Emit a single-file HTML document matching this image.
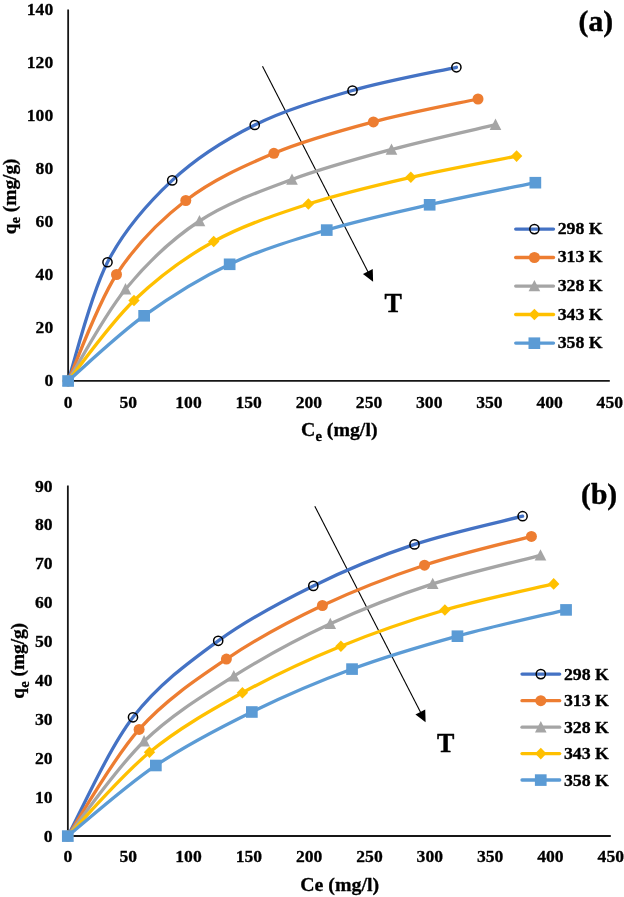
<!DOCTYPE html>
<html><head><meta charset="utf-8"><title>Adsorption isotherms</title>
<style>
html,body{margin:0;padding:0;background:#fff;}
body{width:624px;height:897px;overflow:hidden;font-family:"Liberation Serif",serif;}
svg{display:block;will-change:transform}
text{font-family:"Liberation Serif",serif;font-weight:bold;fill:#000;stroke:#000;stroke-width:0.3px;stroke-linejoin:round}
.b,.b2{stroke-width:0.45px}
.t{font-size:17.6px}
.l{font-size:16.2px}
.a{font-size:19.1px}
.a2{font-size:18.6px}
.b{font-size:27.4px}
.b2{font-size:29.5px}
</style></head><body>
<svg width="624" height="897" viewBox="0 0 624 897">
<rect width="624" height="897" fill="#fff"/>
<g id="chart-a">
<path d="M68.15 9.60 V380.90 H609.80" fill="none" stroke="#161616" stroke-width="1.8"/>
<text x="53.20" y="386.00" text-anchor="end" class="t">0</text>
<text x="53.20" y="333.00" text-anchor="end" class="t">20</text>
<text x="53.20" y="280.00" text-anchor="end" class="t">40</text>
<text x="53.20" y="227.00" text-anchor="end" class="t">60</text>
<text x="53.20" y="174.00" text-anchor="end" class="t">80</text>
<text x="53.20" y="121.00" text-anchor="end" class="t">100</text>
<text x="53.20" y="68.00" text-anchor="end" class="t">120</text>
<text x="53.20" y="15.00" text-anchor="end" class="t">140</text>
<text x="68.15" y="408.00" text-anchor="middle" class="t">0</text>
<text x="128.33" y="408.00" text-anchor="middle" class="t">50</text>
<text x="188.52" y="408.00" text-anchor="middle" class="t">100</text>
<text x="248.70" y="408.00" text-anchor="middle" class="t">150</text>
<text x="308.88" y="408.00" text-anchor="middle" class="t">200</text>
<text x="369.07" y="408.00" text-anchor="middle" class="t">250</text>
<text x="429.25" y="408.00" text-anchor="middle" class="t">300</text>
<text x="489.43" y="408.00" text-anchor="middle" class="t">350</text>
<text x="549.62" y="408.00" text-anchor="middle" class="t">400</text>
<text x="609.80" y="408.00" text-anchor="middle" class="t">450</text>
<path d="M262.50 66.20 L368.31 272.46" stroke="#000" stroke-width="1.1"/>
<path d="M373.10 281.80 L362.96 274.08 L372.74 269.06 Z" fill="#000"/>
<path d="M68.15 380.90 C74.71 361.12 90.16 295.67 107.50 262.25 C124.84 228.83 147.66 203.28 172.20 180.40 C196.74 157.53 224.70 139.98 254.75 125.00 C284.80 110.02 318.89 100.12 352.50 90.50 C386.11 80.88 439.08 71.17 456.40 67.30" fill="none" stroke="#4472C4" stroke-width="3.3" stroke-linecap="round" stroke-linejoin="round"/>
<circle cx="68.15" cy="380.90" r="4.6" fill="none" stroke="#000" stroke-width="1.5"/>
<circle cx="107.50" cy="262.25" r="4.6" fill="none" stroke="#000" stroke-width="1.5"/>
<circle cx="172.20" cy="180.40" r="4.6" fill="none" stroke="#000" stroke-width="1.5"/>
<circle cx="254.75" cy="125.00" r="4.6" fill="none" stroke="#000" stroke-width="1.5"/>
<circle cx="352.50" cy="90.50" r="4.6" fill="none" stroke="#000" stroke-width="1.5"/>
<circle cx="456.40" cy="67.30" r="4.6" fill="none" stroke="#000" stroke-width="1.5"/>
<path d="M68.15 380.90 C76.21 363.17 96.89 304.57 116.50 274.50 C136.11 244.43 159.57 220.70 185.80 200.50 C212.03 180.30 242.63 166.40 273.90 153.30 C305.17 140.20 339.38 130.95 373.40 121.90 C407.42 112.85 460.57 102.82 478.00 99.00" fill="none" stroke="#ED7D31" stroke-width="3.3" stroke-linecap="round" stroke-linejoin="round"/>
<circle cx="68.15" cy="380.90" r="5.5" fill="#ED7D31"/>
<circle cx="116.50" cy="274.50" r="5.5" fill="#ED7D31"/>
<circle cx="185.80" cy="200.50" r="5.5" fill="#ED7D31"/>
<circle cx="273.90" cy="153.30" r="5.5" fill="#ED7D31"/>
<circle cx="373.40" cy="121.90" r="5.5" fill="#ED7D31"/>
<circle cx="478.00" cy="99.00" r="5.5" fill="#ED7D31"/>
<path d="M68.15 380.90 C77.71 365.62 103.61 315.85 125.50 289.20 C147.39 262.55 171.75 239.28 199.50 221.00 C227.25 202.72 260.00 191.42 292.00 179.50 C324.00 167.58 357.58 158.63 391.50 149.50 C425.42 140.37 478.17 128.83 495.50 124.70" fill="none" stroke="#A5A5A5" stroke-width="3.3" stroke-linecap="round" stroke-linejoin="round"/>
<path d="M68.15 374.80 L73.95 386.10 L62.35 386.10 Z" fill="#A5A5A5"/>
<path d="M125.50 283.10 L131.30 294.40 L119.70 294.40 Z" fill="#A5A5A5"/>
<path d="M199.50 214.90 L205.30 226.20 L193.70 226.20 Z" fill="#A5A5A5"/>
<path d="M292.00 173.40 L297.80 184.70 L286.20 184.70 Z" fill="#A5A5A5"/>
<path d="M391.50 143.40 L397.30 154.70 L385.70 154.70 Z" fill="#A5A5A5"/>
<path d="M495.50 118.60 L501.30 129.90 L489.70 129.90 Z" fill="#A5A5A5"/>
<path d="M68.15 380.90 C79.12 367.50 109.74 323.73 134.00 300.50 C158.26 277.27 184.63 257.58 213.70 241.50 C242.77 225.42 275.55 214.70 308.40 204.00 C341.25 193.30 376.10 185.28 410.80 177.30 C445.50 169.32 498.97 159.63 516.60 156.10" fill="none" stroke="#FFC000" stroke-width="3.3" stroke-linecap="round" stroke-linejoin="round"/>
<path d="M68.15 375.10 L73.85 380.90 L68.15 386.70 L62.45 380.90 Z" fill="#FFC000"/>
<path d="M134.00 294.70 L139.70 300.50 L134.00 306.30 L128.30 300.50 Z" fill="#FFC000"/>
<path d="M213.70 235.70 L219.40 241.50 L213.70 247.30 L208.00 241.50 Z" fill="#FFC000"/>
<path d="M308.40 198.20 L314.10 204.00 L308.40 209.80 L302.70 204.00 Z" fill="#FFC000"/>
<path d="M410.80 171.50 L416.50 177.30 L410.80 183.10 L405.10 177.30 Z" fill="#FFC000"/>
<path d="M516.60 150.30 L522.30 156.10 L516.60 161.90 L510.90 156.10 Z" fill="#FFC000"/>
<path d="M68.15 380.90 C80.83 370.03 117.27 335.15 144.20 315.70 C171.12 296.25 199.27 278.48 229.70 264.20 C260.13 249.92 293.47 239.92 326.80 230.00 C360.13 220.08 394.93 212.60 429.70 204.70 C464.47 196.80 517.78 186.28 535.40 182.60" fill="none" stroke="#5B9BD5" stroke-width="3.3" stroke-linecap="round" stroke-linejoin="round"/>
<rect x="62.25" y="375.20" width="11.7" height="11.6" fill="#5B9BD5"/>
<rect x="138.30" y="310.00" width="11.7" height="11.6" fill="#5B9BD5"/>
<rect x="223.80" y="258.50" width="11.7" height="11.6" fill="#5B9BD5"/>
<rect x="320.90" y="224.30" width="11.7" height="11.6" fill="#5B9BD5"/>
<rect x="423.80" y="199.00" width="11.7" height="11.6" fill="#5B9BD5"/>
<rect x="529.50" y="176.90" width="11.7" height="11.6" fill="#5B9BD5"/>
<path d="M515.70 229.10 H553.50" stroke="#4472C4" stroke-width="3.3" stroke-linecap="round"/>
<circle cx="534.40" cy="229.10" r="4.6" fill="none" stroke="#000" stroke-width="1.5"/>
<text transform="translate(557.70 234.00) scale(1.1 1)" class="l">298 K</text>
<path d="M515.70 257.50 H553.50" stroke="#ED7D31" stroke-width="3.3" stroke-linecap="round"/>
<circle cx="534.40" cy="257.50" r="5.5" fill="#ED7D31"/>
<text transform="translate(557.70 262.00) scale(1.1 1)" class="l">313 K</text>
<path d="M515.70 286.10 H553.50" stroke="#A5A5A5" stroke-width="3.3" stroke-linecap="round"/>
<path d="M534.40 280.00 L540.20 291.30 L528.60 291.30 Z" fill="#A5A5A5"/>
<text transform="translate(557.70 291.00) scale(1.1 1)" class="l">328 K</text>
<path d="M515.70 314.50 H553.50" stroke="#FFC000" stroke-width="3.3" stroke-linecap="round"/>
<path d="M534.40 308.70 L540.10 314.50 L534.40 320.30 L528.70 314.50 Z" fill="#FFC000"/>
<text transform="translate(557.70 320.00) scale(1.1 1)" class="l">343 K</text>
<path d="M515.70 343.10 H553.50" stroke="#5B9BD5" stroke-width="3.3" stroke-linecap="round"/>
<rect x="528.50" y="337.40" width="11.7" height="11.6" fill="#5B9BD5"/>
<text transform="translate(557.70 348.00) scale(1.1 1)" class="l">358 K</text>
<text transform="translate(393.20 312.40) scale(0.95 1)" text-anchor="middle" class="b">T</text>
<text x="595.80" y="30.90" text-anchor="middle" class="b2">(a)</text>
<text transform="translate(339.27 436.00) scale(1.04 1)" text-anchor="middle" class="a">C<tspan dy="4.6" font-size="14">e</tspan><tspan dy="-4.6"> (mg/l)</tspan></text>
<text transform="translate(15.70 196.35) rotate(-90) scale(1.04 1)" text-anchor="middle" class="a2">q<tspan dy="4.6" font-size="14">e</tspan><tspan dy="-4.6"> (mg/g)</tspan></text>
</g>
<g id="chart-b">
<path d="M67.85 485.50 V836.00 H610.80" fill="none" stroke="#161616" stroke-width="1.8"/>
<text x="52.50" y="842.00" text-anchor="end" class="t">0</text>
<text x="52.50" y="803.00" text-anchor="end" class="t">10</text>
<text x="52.50" y="764.00" text-anchor="end" class="t">20</text>
<text x="52.50" y="725.00" text-anchor="end" class="t">30</text>
<text x="52.50" y="686.00" text-anchor="end" class="t">40</text>
<text x="52.50" y="647.00" text-anchor="end" class="t">50</text>
<text x="52.50" y="608.00" text-anchor="end" class="t">60</text>
<text x="52.50" y="569.00" text-anchor="end" class="t">70</text>
<text x="52.50" y="530.00" text-anchor="end" class="t">80</text>
<text x="52.50" y="492.00" text-anchor="end" class="t">90</text>
<text x="67.85" y="862.00" text-anchor="middle" class="t">0</text>
<text x="128.18" y="862.00" text-anchor="middle" class="t">50</text>
<text x="188.51" y="862.00" text-anchor="middle" class="t">100</text>
<text x="248.83" y="862.00" text-anchor="middle" class="t">150</text>
<text x="309.16" y="862.00" text-anchor="middle" class="t">200</text>
<text x="369.49" y="862.00" text-anchor="middle" class="t">250</text>
<text x="429.82" y="862.00" text-anchor="middle" class="t">300</text>
<text x="490.14" y="862.00" text-anchor="middle" class="t">350</text>
<text x="550.47" y="862.00" text-anchor="middle" class="t">400</text>
<text x="610.80" y="862.00" text-anchor="middle" class="t">450</text>
<path d="M314.80 506.20 L420.81 712.86" stroke="#000" stroke-width="1.1"/>
<path d="M425.60 722.20 L415.46 714.48 L425.24 709.46 Z" fill="#000"/>
<path d="M67.85 836.00 C78.71 816.22 107.94 749.83 133.00 717.30 C158.06 684.77 188.15 662.70 218.20 640.80 C248.25 618.90 280.58 601.97 313.30 585.90 C346.02 569.83 379.62 556.02 414.50 544.40 C449.38 532.78 504.58 520.90 522.60 516.20" fill="none" stroke="#4472C4" stroke-width="3.3" stroke-linecap="round" stroke-linejoin="round"/>
<circle cx="67.85" cy="836.00" r="4.6" fill="none" stroke="#000" stroke-width="1.5"/>
<circle cx="133.00" cy="717.30" r="4.6" fill="none" stroke="#000" stroke-width="1.5"/>
<circle cx="218.20" cy="640.80" r="4.6" fill="none" stroke="#000" stroke-width="1.5"/>
<circle cx="313.30" cy="585.90" r="4.6" fill="none" stroke="#000" stroke-width="1.5"/>
<circle cx="414.50" cy="544.40" r="4.6" fill="none" stroke="#000" stroke-width="1.5"/>
<circle cx="522.60" cy="516.20" r="4.6" fill="none" stroke="#000" stroke-width="1.5"/>
<path d="M67.85 836.00 C79.72 818.23 112.67 758.88 139.10 729.40 C165.53 699.92 195.85 679.75 226.40 659.10 C256.95 638.45 289.38 621.15 322.40 605.50 C355.42 589.85 389.67 576.72 424.50 565.20 C459.33 553.68 513.58 541.20 531.40 536.40" fill="none" stroke="#ED7D31" stroke-width="3.3" stroke-linecap="round" stroke-linejoin="round"/>
<circle cx="67.85" cy="836.00" r="5.5" fill="#ED7D31"/>
<circle cx="139.10" cy="729.40" r="5.5" fill="#ED7D31"/>
<circle cx="226.40" cy="659.10" r="5.5" fill="#ED7D31"/>
<circle cx="322.40" cy="605.50" r="5.5" fill="#ED7D31"/>
<circle cx="424.50" cy="565.20" r="5.5" fill="#ED7D31"/>
<circle cx="531.40" cy="536.40" r="5.5" fill="#ED7D31"/>
<path d="M67.85 836.00 C80.56 820.20 116.44 767.83 144.10 741.20 C171.76 714.57 202.77 695.77 233.80 676.20 C264.83 656.63 297.15 639.18 330.30 623.80 C363.45 608.42 397.67 595.30 432.70 583.90 C467.73 572.50 522.53 560.15 540.50 555.40" fill="none" stroke="#A5A5A5" stroke-width="3.3" stroke-linecap="round" stroke-linejoin="round"/>
<path d="M67.85 829.90 L73.65 841.20 L62.05 841.20 Z" fill="#A5A5A5"/>
<path d="M144.10 735.10 L149.90 746.40 L138.30 746.40 Z" fill="#A5A5A5"/>
<path d="M233.80 670.10 L239.60 681.40 L228.00 681.40 Z" fill="#A5A5A5"/>
<path d="M330.30 617.70 L336.10 629.00 L324.50 629.00 Z" fill="#A5A5A5"/>
<path d="M432.70 577.80 L438.50 589.10 L426.90 589.10 Z" fill="#A5A5A5"/>
<path d="M540.50 549.30 L546.30 560.60 L534.70 560.60 Z" fill="#A5A5A5"/>
<path d="M67.85 836.00 C81.46 822.05 120.41 776.17 149.50 752.30 C178.59 728.43 210.50 710.48 242.40 692.80 C274.30 675.12 307.15 660.00 340.90 646.20 C374.65 632.40 409.43 620.38 444.90 610.00 C480.37 599.62 535.57 588.25 553.70 583.90" fill="none" stroke="#FFC000" stroke-width="3.3" stroke-linecap="round" stroke-linejoin="round"/>
<path d="M67.85 830.20 L73.55 836.00 L67.85 841.80 L62.15 836.00 Z" fill="#FFC000"/>
<path d="M149.50 746.50 L155.20 752.30 L149.50 758.10 L143.80 752.30 Z" fill="#FFC000"/>
<path d="M242.40 687.00 L248.10 692.80 L242.40 698.60 L236.70 692.80 Z" fill="#FFC000"/>
<path d="M340.90 640.40 L346.60 646.20 L340.90 652.00 L335.20 646.20 Z" fill="#FFC000"/>
<path d="M444.90 604.20 L450.60 610.00 L444.90 615.80 L439.20 610.00 Z" fill="#FFC000"/>
<path d="M553.70 578.10 L559.40 583.90 L553.70 589.70 L548.00 583.90 Z" fill="#FFC000"/>
<path d="M67.85 836.00 C82.52 824.23 125.23 786.08 155.90 765.40 C186.58 744.72 219.20 727.97 251.90 711.90 C284.60 695.83 317.83 681.63 352.10 669.00 C386.37 656.37 421.83 645.97 457.50 636.10 C493.17 626.23 548.00 614.18 566.10 609.80" fill="none" stroke="#5B9BD5" stroke-width="3.3" stroke-linecap="round" stroke-linejoin="round"/>
<rect x="61.95" y="830.30" width="11.7" height="11.6" fill="#5B9BD5"/>
<rect x="150.00" y="759.70" width="11.7" height="11.6" fill="#5B9BD5"/>
<rect x="246.00" y="706.20" width="11.7" height="11.6" fill="#5B9BD5"/>
<rect x="346.20" y="663.30" width="11.7" height="11.6" fill="#5B9BD5"/>
<rect x="451.60" y="630.40" width="11.7" height="11.6" fill="#5B9BD5"/>
<rect x="560.20" y="604.10" width="11.7" height="11.6" fill="#5B9BD5"/>
<path d="M522.00 674.10 H559.70" stroke="#4472C4" stroke-width="3.3" stroke-linecap="round"/>
<circle cx="540.80" cy="674.10" r="4.6" fill="none" stroke="#000" stroke-width="1.5"/>
<text transform="translate(563.90 680.00) scale(1.1 1)" class="l">298 K</text>
<path d="M522.00 700.70 H559.70" stroke="#ED7D31" stroke-width="3.3" stroke-linecap="round"/>
<circle cx="540.80" cy="700.70" r="5.5" fill="#ED7D31"/>
<text transform="translate(563.90 706.00) scale(1.1 1)" class="l">313 K</text>
<path d="M522.00 727.20 H559.70" stroke="#A5A5A5" stroke-width="3.3" stroke-linecap="round"/>
<path d="M540.80 721.10 L546.60 732.40 L535.00 732.40 Z" fill="#A5A5A5"/>
<text transform="translate(563.90 733.00) scale(1.1 1)" class="l">328 K</text>
<path d="M522.00 753.60 H559.70" stroke="#FFC000" stroke-width="3.3" stroke-linecap="round"/>
<path d="M540.80 747.80 L546.50 753.60 L540.80 759.40 L535.10 753.60 Z" fill="#FFC000"/>
<text transform="translate(563.90 759.00) scale(1.1 1)" class="l">343 K</text>
<path d="M522.00 780.00 H559.70" stroke="#5B9BD5" stroke-width="3.3" stroke-linecap="round"/>
<rect x="534.90" y="774.30" width="11.7" height="11.6" fill="#5B9BD5"/>
<text transform="translate(563.90 786.00) scale(1.1 1)" class="l">358 K</text>
<text transform="translate(445.60 752.40) scale(0.95 1)" text-anchor="middle" class="b">T</text>
<text x="599.10" y="503.60" text-anchor="middle" class="b2">(b)</text>
<text transform="translate(339.62 891.00) scale(1.04 1)" text-anchor="middle" class="a">Ce (mg/l)</text>
<text transform="translate(24.10 660.75) rotate(-90) scale(1.04 1)" text-anchor="middle" class="a2">q<tspan dy="4.6" font-size="14">e</tspan><tspan dy="-4.6"> (mg/g)</tspan></text>
</g>
</svg>
</body></html>
